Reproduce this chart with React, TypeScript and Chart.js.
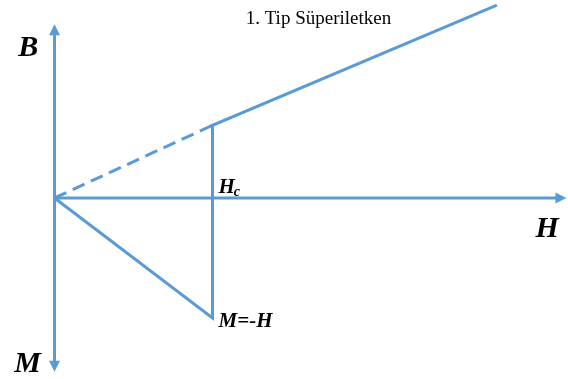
import React, { useEffect, useRef } from "react";
import { Chart, registerables } from "chart.js";

Chart.register(...registerables);

// Field H (horizontal) and induction / magnetisation (vertical), with Hc = 10
const criticalField = 10;
const meissnerB = [0, 4.6]; // dashed rise of B from the origin up to Hc
const normalH = [criticalField, 28];
const normalB = [4.6, 12.2];
const magnetH = [0, criticalField];
const magnetM = [0, -7.6]; // M = -H below Hc

// axis extents
const hAxisEnd = 32.4;
const vAxisTop = 11.0;
const vAxisBottom = -11.0;

const axisLabels = [
  { text: "B", x: -2.3, y: 9.0, size: 30 },
  { text: "M", x: -2.55, y: -11.0, size: 30 },
  { text: "H", x: 30.45, y: -2.5, size: 30 },
];
const titleText = "1. Tip Süperiletken";
const hcLabel = "H";
const hcSub = "c";
const mLabel = "M=-H";

const BLUE = "#5B9BD5";

export default function App() {
  const ref = useRef<HTMLCanvasElement | null>(null);

  useEffect(() => {
    if (!ref.current) return;

    const decorations = {
      id: "decorations",
      beforeDatasetsDraw(chart: any) {
        const { ctx, scales } = chart;
        const xs = scales.x;
        const ys = scales.y;
        const px = (v: number) => xs.getPixelForValue(v);
        const py = (v: number) => ys.getPixelForValue(v);
        ctx.save();
        ctx.strokeStyle = BLUE;
        ctx.fillStyle = BLUE;
        ctx.lineWidth = 3;
        const ox = px(0);
        const oy = py(0);
        const head = 11;
        const half = 5.5;
        // vertical axis
        ctx.beginPath();
        ctx.moveTo(ox, py(vAxisTop) + head - 1);
        ctx.lineTo(ox, py(vAxisBottom) - head + 1);
        ctx.stroke();
        // horizontal axis
        ctx.beginPath();
        ctx.moveTo(ox, oy);
        ctx.lineTo(px(hAxisEnd) - head + 1, oy);
        ctx.stroke();
        // arrow heads
        const tip = (pts: number[][]) => {
          ctx.beginPath();
          ctx.moveTo(pts[0][0], pts[0][1]);
          ctx.lineTo(pts[1][0], pts[1][1]);
          ctx.lineTo(pts[2][0], pts[2][1]);
          ctx.closePath();
          ctx.fill();
        };
        const t = py(vAxisTop);
        tip([[ox, t], [ox - half, t + head], [ox + half, t + head]]);
        const b = py(vAxisBottom);
        tip([[ox, b], [ox - half, b - head], [ox + half, b - head]]);
        const r = px(hAxisEnd);
        tip([[r, oy], [r - head, oy - half], [r - head, oy + half]]);
        ctx.restore();
      },
      afterDatasetsDraw(chart: any) {
        const { ctx, scales } = chart;
        const px = (v: number) => scales.x.getPixelForValue(v);
        const py = (v: number) => scales.y.getPixelForValue(v);
        ctx.save();
        ctx.fillStyle = "#000";
        ctx.textBaseline = "alphabetic";
        ctx.textAlign = "left";
        const serif = "'Liberation Serif', 'Times New Roman', serif";
        for (const l of axisLabels) {
          ctx.font = `italic bold ${l.size}px ${serif}`;
          ctx.fillText(l.text, px(l.x), py(l.y));
        }
        // H_c
        const hcX = px(criticalField) + 6;
        const hcY = py(0) - 5;
        ctx.font = `italic bold 21px ${serif}`;
        ctx.fillText(hcLabel, hcX, hcY);
        const w = ctx.measureText(hcLabel).width;
        ctx.font = `italic bold 14px ${serif}`;
        ctx.fillText(hcSub, hcX + w - 1, hcY + 3);
        // M = -H
        ctx.font = `italic bold 21px ${serif}`;
        ctx.fillText(mLabel, px(criticalField) + 6, py(magnetM[1]) + 9);
        // title
        ctx.font = `19px ${serif}`;
        ctx.fillText(titleText, px(12.1), py(11.0));
        ctx.restore();
      },
    };

    const chart = new Chart(ref.current, {
      type: "scatter",
      data: {
        datasets: [
          {
            data: [
              { x: magnetH[0], y: meissnerB[0] },
              { x: criticalField, y: meissnerB[1] },
            ],
            showLine: true,
            borderColor: BLUE,
            borderWidth: 3,
            borderDash: [13, 7],
            pointRadius: 0,
          },
          {
            data: [
              { x: magnetH[0], y: magnetM[0] },
              { x: magnetH[1], y: magnetM[1] },
              { x: normalH[0], y: normalB[0] },
              { x: normalH[1], y: normalB[1] },
            ],
            showLine: true,
            borderColor: BLUE,
            borderWidth: 3,
            borderJoinStyle: "miter",
            pointRadius: 0,
          },
        ],
      },
      options: {
        animation: false,
        responsive: false,
        layout: { padding: 0 },
        plugins: {
          legend: { display: false },
          tooltip: { enabled: false },
        },
        scales: {
          x: { type: "linear", min: -3.45, max: 32.5, display: false },
          y: { type: "linear", min: -11.65, max: 12.53, display: false },
        },
      },
      plugins: [decorations],
    });
    return () => chart.destroy();
  }, []);

  return (
    <div style={{ position: "fixed", left: 0, top: 0, width: 568, height: 382, background: "#fff" }}>
      <canvas ref={ref} width={568} height={382} />
    </div>
  );
}
